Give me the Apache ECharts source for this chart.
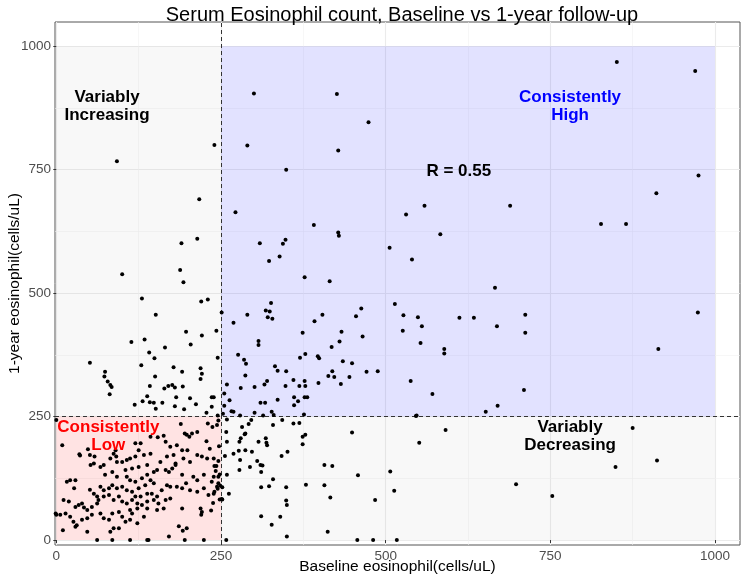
<!DOCTYPE html>
<html>
<head>
<meta charset="utf-8">
<script src="https://cdn.jsdelivr.net/npm/echarts@6/dist/echarts.min.js"></script>
<style>
  html, body { margin: 0; padding: 0; background: #fff; }
  #chart { width: 749px; height: 579px; }
</style>
</head>
<body>
<div id="chart"></div>
<script>
// tick values shared by both axes
const tickValues = [0, 250, 500, 750, 1000];
const minorValues = [125, 375, 625, 875];

// baseline < 250, follow-up < 250
const consistentlyLow = [
  [189,235],[230,236],[237,229],[244,233],[246,242],[195,216],[198,213],[202,209],[206,216],[214,219],
  [128,196],[143,209],[154,208],[163,211],[125,182],[120,196],[166,199],[173,189],[183,192],[191,182],
  [199,182],[9,192],[35,174],[48,184],[51,172],[57,155],[72,152],[82,165],[87,175],[92,158],
  [100,158],[107,162],[112,165],[120,169],[133,172],[143,175],[168,169],[178,172],[181,152],[193,165],
  [203,158],[214,172],[221,169],[229,165],[239,165],[105,142],[115,145],[125,148],[138,152],[148,138],
  [153,142],[158,158],[166,142],[171,138],[176,145],[181,155],[191,132],[208,128],[214,121],[224,132],
  [239,128],[246,128],[74,132],[85,138],[92,128],[107,128],[112,121],[120,118],[130,125],[138,132],
  [143,121],[148,115],[135,111],[125,105],[16,118],[21,121],[29,121],[27,105],[67,108],[72,101],
  [80,105],[85,111],[92,105],[100,108],[107,101],[115,98],[120,88],[128,88],[138,94],[145,94],
  [153,88],[160,101],[168,111],[173,108],[183,108],[191,105],[197,115],[203,101],[214,98],[224,105],
  [231,91],[239,94],[244,108],[246,115],[51,102],[57,94],[62,88],[64,81],[72,88],[80,91],
  [87,81],[95,88],[100,78],[107,74],[115,81],[123,74],[130,71],[138,78],[148,81],[155,74],
  [166,81],[173,84],[11,81],[19,78],[29,67],[34,71],[39,74],[42,66],[47,61],[54,67],
  [62,74],[6,51],[14,54],[21,47],[26,37],[31,30],[39,41],[47,44],[54,51],[67,54],
  [72,44],[80,41],[85,54],[95,57],[100,47],[112,61],[115,54],[123,64],[138,64],[153,61],
  [163,64],[191,64],[219,64],[220,51],[221,57],[-1,54],[0,51],[10,20],[29,27],[47,17],
  [62,0],[82,17],[87,24],[95,24],[105,37],[112,41],[123,34],[133,47],[186,28],[192,19],
  [198,24],[85,0],[112,0],[138,0],[140,0],[171,7],[195,0],[224,0],[0,243],[247,190],
  [246,160],[248,133],[249,110],[245,104],[248,82],[243,150],[242,140],[236,118],[240,98],[238,75],
  [235,60],[58,169],[67,148],[90,182],[91,169],[36,171],[52,152],[240,150],[228,200],[233,185]
];

// baseline < 250, follow-up >= 250
const variablyIncreasing = [
  [92,767],[240,800],[217,690],[214,610],[190,601],[100,538],[188,547],[193,522],[130,489],[220,483],
  [230,487],[151,456],[197,422],[243,424],[221,414],[114,401],[134,406],[204,396],[165,390],[141,380],
  [149,368],[245,369],[51,359],[129,354],[74,341],[73,331],[78,321],[82,314],[84,310],[81,295],
  [178,350],[191,341],[219,348],[221,337],[219,326],[150,331],[142,312],[164,307],[170,312],[176,314],
  [180,309],[192,311],[138,291],[182,289],[203,287],[236,289],[131,281],[142,279],[148,278],[161,278],
  [119,274],[180,271],[212,275],[236,270],[151,266],[194,265],[239,289],[245,252],[228,258]
];

// baseline >= 250, follow-up >= 250
const consistentlyHigh = [
  [251,461],[300,904],[426,903],[474,846],[290,799],[428,789],[349,750],[272,664],[391,638],[428,623],
  [429,616],[506,592],[309,601],[344,600],[348,608],[339,574],[323,565],[377,532],[415,524],[540,568],
  [269,440],[290,456],[318,465],[324,463],[326,480],[321,451],[328,448],[307,403],[307,395],[276,375],
  [285,365],[288,357],[287,333],[280,308],[301,310],[332,352],[336,343],[349,342],[316,315],[320,322],
  [310,278],[317,278],[336,284],[348,312],[360,324],[369,312],[361,289],[361,273],[367,281],[370,369],
  [374,420],[378,377],[377,322],[378,312],[377,289],[381,289],[376,254],[392,443],[404,456],[397,372],
  [399,368],[398,318],[413,332],[422,330],[419,342],[418,391],[430,402],[433,422],[435,362],[432,316],
  [445,330],[449,358],[455,453],[463,469],[465,412],[471,341],[488,342],[514,478],[527,455],[549,451],
  [555,433],[526,424],[553,399],[589,387],[589,378],[612,450],[634,450],[669,433],[712,456],[712,420],
  [538,322],[571,296],[710,304],[652,260],[670,272],[546,251],[914,387],[974,461],[531,659],[559,677],
  [583,619],[689,677],[666,511],[827,640],[865,640],[911,702],[975,738],[851,968],[970,950],[259,315],
  [255,297],[263,283],[255,272],[266,261],[269,260],[253,256],[279,252],[301,258],[314,252],[327,260],
  [330,253],[547,252]
];

// baseline >= 250, follow-up < 250
const variablyDecreasing = [
  [259,244],[258,219],[259,199],[256,170],[259,132],[252,107],[262,94],[252,82],[258,0],[269,175],
  [278,199],[279,162],[278,142],[282,229],[280,206],[286,214],[287,182],[292,235],[296,243],[294,148],
  [297,179],[307,199],[305,160],[310,152],[313,151],[311,138],[311,107],[311,48],[318,206],[319,197],
  [320,192],[329,233],[329,123],[323,109],[342,170],[351,179],[343,243],[340,47],[327,31],[349,107],
  [349,80],[350,71],[350,7],[360,236],[369,237],[374,209],[378,213],[374,194],[379,112],[407,152],
  [419,150],[407,111],[416,86],[412,17],[449,218],[458,131],[484,81],[457,0],[481,0],[517,0],
  [507,139],[513,100],[551,197],[591,223],[875,227],[912,161],[849,148],[698,113],[753,89],[277,181],
  [287,216],[251,83]
];

const allPoints = consistentlyLow.concat(variablyIncreasing, consistentlyHigh, variablyDecreasing);

const chart = echarts.init(document.getElementById("chart"));
const font = "Liberation Sans, Arial, sans-serif";

const gridLines = [];
tickValues.forEach((v) => {
  gridLines.push({ xAxis: v, lineStyle: { color: "#ebebeb", width: 1.1, type: "solid" } });
  gridLines.push({ yAxis: v, lineStyle: { color: "#ebebeb", width: 1.1, type: "solid" } });
});
minorValues.forEach((v) => {
  gridLines.push({ xAxis: v, lineStyle: { color: "#f2f2f2", width: 0.6, type: "solid" } });
  gridLines.push({ yAxis: v, lineStyle: { color: "#f2f2f2", width: 0.6, type: "solid" } });
});

const quadLabels = [
  { value: [77, 879], name: "Variably\nIncreasing", color: "#000000" },
  { value: [780, 879], name: "Consistently\nHigh", color: "#0000ff" },
  { value: [79, 211], name: "Consistently\nLow", color: "#ff0000" },
  { value: [780, 210], name: "Variably\nDecreasing", color: "#000000" },
  { value: [611, 747], name: "R = 0.55", color: "#000000" },
];

const axisCommon = {
  type: "value",
  nameLocation: "middle",
  nameMoveOverlap: false,
  nameTextStyle: { fontFamily: font, fontSize: 15.5, color: "#000" },
  splitLine: { show: false },
  axisLine: { show: false },
  axisTick: { show: true, length: 3, customValues: tickValues, lineStyle: { color: "#333" } },
  axisLabel: {
    customValues: tickValues, margin: 4, fontSize: 13.5, color: "#4d4d4d", fontFamily: font,
    formatter: (v) => String(v),
  },
};

chart.setOption({
  animation: false,
  textStyle: { fontFamily: font },
  title: {
    text: "Serum Eosinophil count, Baseline vs 1-year follow-up",
    left: 397,
    top: 0,
    textAlign: "center",
    textStyle: { fontFamily: font, fontSize: 20, fontWeight: "normal", color: "#000" },
  },
  grid: {
    left: 55, right: 9, top: 22, bottom: 34,
    containLabel: false, outerBoundsMode: "none",
    show: true, backgroundColor: "#ffffff", borderColor: "#555555", borderWidth: 1,
  },
  xAxis: Object.assign({}, axisCommon, {
    min: -2, max: 1038, name: "Baseline eosinophil(cells/uL)", nameGap: 14,
  }),
  yAxis: Object.assign({}, axisCommon, {
    min: -10, max: 1049, name: "1-year eosinophil(cells/uL)", nameGap: 32,
  }),
  series: [
    {
      // panel grid lines
      type: "scatter",
      data: [[0, 0]],
      symbolSize: 0,
      silent: true,
      z: 1,
      markLine: {
        z: 0,
        silent: true,
        symbol: ["none", "none"],
        label: { show: false },
        data: gridLines,
      },
    },
    {
      // quadrant shading + cut-off lines
      type: "scatter",
      data: [[0, 0]],
      symbolSize: 0,
      silent: true,
      z: 2,
      markArea: {
        z: 1,
        silent: true,
        data: [
          [{ xAxis: 0, yAxis: 250, itemStyle: { color: "rgba(128,128,128,0.06)" } }, { xAxis: 250, yAxis: 1000 }],
          [{ xAxis: 250, yAxis: 0, itemStyle: { color: "rgba(128,128,128,0.06)" } }, { xAxis: 1000, yAxis: 250 }],
          [{ xAxis: 0, yAxis: 0, itemStyle: { color: "rgba(255,0,0,0.11)" } }, { xAxis: 250, yAxis: 250 }],
          [{ xAxis: 250, yAxis: 250, itemStyle: { color: "rgba(0,0,255,0.115)" } }, { xAxis: 1000, yAxis: 1000 }],
        ],
      },
      markLine: {
        z: 2,
        silent: true,
        symbol: ["none", "none"],
        label: { show: false },
        lineStyle: { color: "#333333", type: [4, 3], width: 1 },
        data: [{ xAxis: 250 }, { yAxis: 250 }],
      },
    },
    {
      name: "patients",
      type: "scatter",
      data: allPoints,
      symbolSize: 4,
      itemStyle: { color: "#000000", opacity: 1 },
      z: 3,
    },
    {
      // quadrant captions and correlation
      type: "scatter",
      silent: true,
      symbolSize: 0,
      itemStyle: { opacity: 1 },
      z: 4,
      data: quadLabels.map((d) => ({
        value: d.value,
        label: {
          show: true,
          position: "inside",
          formatter: d.name,
          color: d.color,
          textBorderWidth: 0,
          textBorderColor: "transparent",
          fontFamily: font,
          fontSize: 17,
          fontWeight: "bold",
          lineHeight: 18,
          align: "center",
        },
      })),
    },
  ],
});
</script>
</body>
</html>
